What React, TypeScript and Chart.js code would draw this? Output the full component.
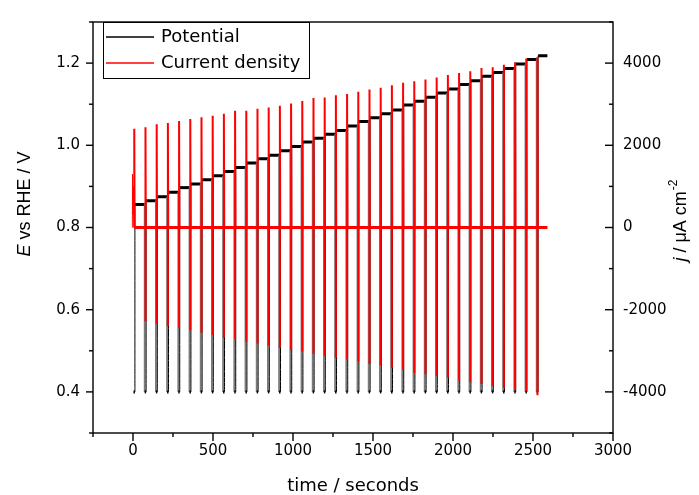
import { useEffect, useRef } from 'react';
import { Chart, registerables } from 'chart.js';

Chart.register(...registerables);

// ---- data ----
const pulseTimes = [
  8, 78, 148, 218, 288, 358, 428, 498, 568, 638, 708, 778, 848, 918, 988, 1058, 1128, 1198, 1268,
  1338, 1408, 1478, 1548, 1618, 1688, 1758, 1828, 1898, 1968, 2038, 2108, 2178, 2248, 2318, 2388,
  2458, 2528,
];
const stepPotentials = [
  0.856, 0.865, 0.875, 0.886, 0.897, 0.906, 0.916, 0.926, 0.936, 0.946, 0.957, 0.967, 0.976, 0.987,
  0.997, 1.008, 1.017, 1.027, 1.036, 1.047, 1.058, 1.067, 1.077, 1.086, 1.098, 1.107, 1.117, 1.127,
  1.137, 1.148, 1.157, 1.168, 1.177, 1.187, 1.198, 1.209, 1.218,
];
const restPotential = 0.4;
const endTime = 2590;
const peakCurrents = [
  2400, 2440, 2510, 2540, 2590, 2640, 2680, 2720, 2770, 2840, 2840, 2890, 2920, 2960, 3020, 3080,
  3150, 3160, 3220, 3250, 3300, 3360, 3400, 3460, 3520, 3560, 3600, 3650, 3710, 3760, 3800, 3880,
  3900, 3960, 4020, 4110, 4150,
];
const dipCurrents = [
  0, -2280, -2340, -2400, -2440, -2500, -2560, -2610, -2680, -2720, -2780, -2820, -2880, -2930,
  -2980, -3020, -3080, -3120, -3170, -3210, -3260, -3320, -3360, -3410, -3460, -3540, -3570, -3610,
  -3650, -3730, -3760, -3810, -3850, -3900, -3940, -3980, -4080,
];
const startTimes = [-4, -3, 0, 3, 6];
const startCurrents = [0, 1300, 300, 1000, 0];
const fallLead = 5; // s before pulse when potential drops to rest
const riseLag = 4; // s after pulse when potential rises to next step
const spikeTail = 2; // s for current spike to decay

const xMajorTicks = [0, 500, 1000, 1500, 2000, 2500, 3000];
const xTickLabels = ['0', '500', '1000', '1500', '2000', '2500', '3000'];
const eMajorTicks = [0.4, 0.6, 0.8, 1.0, 1.2];
const eTickLabels = ['0.4', '0.6', '0.8', '1.0', '1.2'];
const jMajorTicks = [-4000, -2000, 0, 2000, 4000];
const jTickLabels = ['-4000', '-2000', '0', '2000', '4000'];

const seriesNames = ['Potential', 'Current density'];
const seriesColors = ['#000000', '#ff0000'];

// ---- build point lists ----
const potentialPoints: { x: number; y: number }[] = [];
pulseTimes.forEach((t, i) => {
  if (i === 0) {
    potentialPoints.push({ x: t - fallLead, y: restPotential });
  } else {
    potentialPoints.push({ x: t - fallLead, y: stepPotentials[i - 1] });
    potentialPoints.push({ x: t - fallLead, y: restPotential });
  }
  potentialPoints.push({ x: t + riseLag, y: restPotential });
  potentialPoints.push({ x: t + riseLag, y: stepPotentials[i] });
});
potentialPoints.push({ x: endTime, y: stepPotentials[stepPotentials.length - 1] });

const currentPoints: { x: number; y: number }[] = startTimes.map((t, i) => ({ x: t, y: startCurrents[i] }));
pulseTimes.forEach((t, i) => {
  currentPoints.push({ x: t, y: 0 });
  currentPoints.push({ x: t, y: dipCurrents[i] });
  currentPoints.push({ x: t, y: peakCurrents[i] });
  currentPoints.push({ x: t + spikeTail, y: 0 });
});
currentPoints.push({ x: endTime, y: 0 });

const near = (a: number, list: number[]) => list.findIndex((v) => Math.abs(v - a) < 1e-6);

const decorPlugin = {
  id: 'decor',
  afterDraw(chart: any) {
    const { ctx, chartArea: a, scales } = chart;
    ctx.save();
    // frame
    ctx.strokeStyle = '#000';
    ctx.lineWidth = 1.4;
    ctx.strokeRect(a.left, a.top, a.right - a.left, a.bottom - a.top);
    // ticks
    ctx.lineWidth = 1.4;
    const line = (x1: number, y1: number, x2: number, y2: number) => {
      ctx.beginPath();
      ctx.moveTo(x1, y1);
      ctx.lineTo(x2, y2);
      ctx.stroke();
    };
    scales.x.ticks.forEach((t: any) => {
      const px = scales.x.getPixelForValue(t.value);
      const major = near(t.value, xMajorTicks) >= 0;
      line(px, a.bottom, px, a.bottom + (major ? 8 : 4));
    });
    scales.yE.ticks.forEach((t: any) => {
      const py = scales.yE.getPixelForValue(t.value);
      const major = near(t.value, eMajorTicks) >= 0;
      line(a.left, py, a.left - (major ? 7 : 4), py);
    });
    scales.yJ.ticks.forEach((t: any) => {
      const py = scales.yJ.getPixelForValue(t.value);
      const major = near(t.value, jMajorTicks) >= 0;
      line(a.right, py, a.right - (major ? 8 : 4), py);
    });

    // axis titles
    ctx.fillStyle = '#000';
    ctx.textBaseline = 'middle';
    ctx.textAlign = 'left';
    // x title
    ctx.font = '18px "DejaVu Sans"';
    const xt = 'time / seconds';
    const xw = ctx.measureText(xt).width;
    ctx.fillText(xt, (a.left + a.right) / 2 - xw / 2, 486);

    // left title
    ctx.save();
    ctx.translate(25, 204);
    ctx.rotate(-Math.PI / 2);
    ctx.font = 'italic 18px "Liberation Sans"';
    const e1 = 'E';
    const w1 = ctx.measureText(e1).width;
    ctx.font = '18px "Liberation Sans"';
    const e2 = ' vs RHE / V';
    const w2 = ctx.measureText(e2).width;
    let sx = -(w1 + w2) / 2;
    ctx.font = 'italic 18px "Liberation Sans"';
    ctx.fillText(e1, sx, 0);
    ctx.font = '18px "Liberation Sans"';
    ctx.fillText(e2, sx + w1, 0);
    ctx.restore();

    // right title
    ctx.save();
    ctx.translate(681, 221);
    ctx.rotate(-Math.PI / 2);
    ctx.font = 'italic 18px "Liberation Sans"';
    const r1 = 'j';
    const rw1 = ctx.measureText(r1).width;
    ctx.font = '18px "Liberation Sans"';
    const r2 = ' / \u03bcA cm';
    const rw2 = ctx.measureText(r2).width;
    ctx.font = '12px "Liberation Sans"';
    const r3 = '-2';
    const rw3 = ctx.measureText(r3).width;
    sx = -(rw1 + rw2 + rw3) / 2;
    ctx.font = 'italic 18px "Liberation Sans"';
    ctx.fillText(r1, sx, 0);
    ctx.font = '18px "Liberation Sans"';
    ctx.fillText(r2, sx + rw1, 0);
    ctx.font = '12px "Liberation Sans"';
    ctx.fillText(r3, sx + rw1 + rw2 + 1, -7);
    ctx.restore();

    // legend
    ctx.fillStyle = '#fff';
    ctx.fillRect(103.5, 22.5, 206, 56);
    ctx.strokeStyle = '#000';
    ctx.lineWidth = 1;
    ctx.strokeRect(103.5, 22.5, 206, 56);
    ctx.font = '18px "DejaVu Sans"';
    const rows = [37, 63];
    seriesNames.forEach((name, i) => {
      ctx.strokeStyle = seriesColors[i];
      ctx.lineWidth = 1.3;
      line(106, rows[i], 154, rows[i]);
      ctx.fillStyle = '#000';
      ctx.fillText(name, 161, rows[i]);
    });
    ctx.restore();
  },
};

export default function App() {
  const ref = useRef<HTMLCanvasElement | null>(null);
  useEffect(() => {
    if (!ref.current) return;
    const tickFont = { family: 'DejaVu Sans', size: 15 };
    const chart = new Chart(ref.current, {
      type: 'line',
      data: {
        datasets: [
          {
            label: seriesNames[0],
            data: potentialPoints,
            xAxisID: 'x',
            yAxisID: 'yE',
            borderColor: seriesColors[0],
            borderWidth: 1,
            pointRadius: 0,
            tension: 0.000001,
            order: 1,
            segment: {
              borderWidth: (c: any) =>
                c.p0.parsed.y === c.p1.parsed.y ? 3 : c.p0.parsed.y > c.p1.parsed.y ? 1.8 : 1,
              borderColor: (c: any) => (c.p0.parsed.y > c.p1.parsed.y ? '#7a7a7a' : '#000000'),
            },
          },
          {
            label: seriesNames[1],
            data: currentPoints,
            xAxisID: 'x',
            yAxisID: 'yJ',
            borderColor: seriesColors[1],
            borderWidth: 2,
            pointRadius: 0,
            tension: 0.000001,
            order: 0,
            segment: {
              borderWidth: (c: any) =>
                c.p1.parsed.x < pulseTimes[0] ? 1 : c.p0.parsed.y === c.p1.parsed.y ? 3 : 2,
            },
          },
        ],
      },
      options: {
        animation: false,
        responsive: false,
        events: [],
        layout: { padding: { top: 14, left: 0, right: 0, bottom: 0 } },
        plugins: { legend: { display: false }, tooltip: { enabled: false } },
        scales: {
          x: {
            type: 'linear',
            min: -250,
            max: 3000,
            afterFit: (s: any) => {
              s.height = 62;
            },
            ticks: {
              stepSize: 250,
              autoSkip: false,
              maxRotation: 0,
              padding: 9,
              color: '#000',
              font: tickFont,
              callback: (v: any) => {
                const i = near(Number(v), xMajorTicks);
                return i >= 0 ? xTickLabels[i] : '';
              },
            },
            grid: { display: false, drawTicks: false },
            border: { display: false },
          },
          yE: {
            type: 'linear',
            position: 'left',
            min: 0.3,
            max: 1.3,
            afterFit: (s: any) => {
              s.width = 93;
            },
            ticks: {
              stepSize: 0.1,
              autoSkip: false,
              padding: 13,
              color: '#000',
              font: tickFont,
              callback: (v: any) => {
                const i = near(Number(v), eMajorTicks);
                return i >= 0 ? eTickLabels[i] : '';
              },
            },
            grid: { display: false, drawTicks: false },
            border: { display: false },
          },
          yJ: {
            type: 'linear',
            position: 'right',
            min: -5000,
            max: 5000,
            afterFit: (s: any) => {
              s.width = 86;
            },
            ticks: {
              stepSize: 1000,
              autoSkip: false,
              padding: 10,
              color: '#000',
              font: tickFont,
              callback: (v: any) => {
                const i = near(Number(v), jMajorTicks);
                return i >= 0 ? jTickLabels[i] : '';
              },
            },
            grid: { display: false, drawTicks: false },
            border: { display: false },
          },
        },
      },
      plugins: [decorPlugin],
    } as any);
    return () => chart.destroy();
  }, []);
  return (
    <div style={{ position: 'fixed', left: 0, top: 0, width: 699, height: 495, background: '#fff' }}>
      <canvas ref={ref} width={699} height={495} style={{ display: 'block' }} />
    </div>
  );
}
